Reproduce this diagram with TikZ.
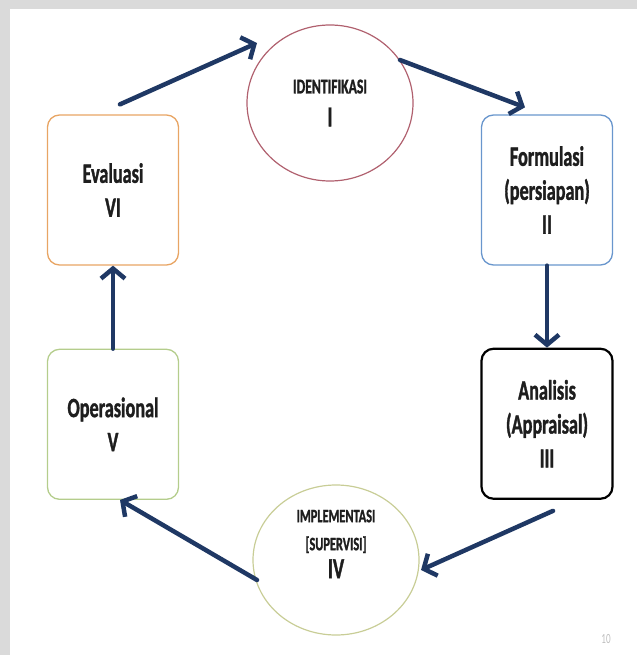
\documentclass[tikz,border=0pt]{standalone}
\usepackage{fontspec}
\newfontfamily\stagefont{Carlito}[FakeStretch=0.65, BoldFeatures={FakeBold=1.2}]
\usepackage{xcolor}
\usetikzlibrary{arrows.meta,positioning,shapes.geometric}

\definecolor{arrowblue}{RGB}{31,56,100}
\definecolor{identcol}{RGB}{176,96,110}
\definecolor{formcol}{RGB}{105,150,205}
\definecolor{implcol}{RGB}{200,205,150}
\definecolor{opercol}{RGB}{180,205,140}
\definecolor{evalcol}{RGB}{232,165,100}
\definecolor{textgray}{RGB}{30,30,30}
\definecolor{edgegray}{RGB}{218,218,218}

\begin{document}
\begin{tikzpicture}[x=1pt, y=-1pt, >={Straight Barb[length=10pt,width=24pt]},
  stage/.style={draw, rounded corners=12pt, line width=1.3pt, minimum width=131pt,
    minimum height=150pt, align=center, text=textgray,
    font=\stagefont\bfseries\fontsize{28}{34}\selectfont},
  phase/.style={draw, ellipse, line width=1.2pt, minimum width=166pt,
    minimum height=150pt, inner sep=0pt, align=center, text=textgray},
  phasetext/.style={align=center, text=textgray,
    font=\stagefont\bfseries\fontsize{19}{28}\selectfont},
  flow/.style={->, line width=4.5pt, draw=arrowblue, line cap=round}]
  \useasboundingbox (0,0) rectangle (637,655);
  \fill[edgegray] (0,0) rectangle (10,655);
  \fill[edgegray] (0,0) rectangle (637,9);

  \node[phase, draw=identcol, minimum height=156pt, font=\stagefont\bfseries\fontsize{21}{33}\selectfont] (ident) at (330,103)
    {IDENTIFIKASI\\{\fontsize{29}{33}\selectfont I}};
  \node[stage, draw=formcol] (form) at (547,190) {Formulasi\\(persiapan)\\II};
  \node[stage, draw=black, line width=2.2pt, below=82pt of form] (anal) {Analisis\\(Appraisal)\\III};
  \node[phase, draw=implcol, label={[phasetext, yshift=16pt]center:{IMPLEMENTASI\\{[SUPERVISI]}\\{\fontsize{29}{33}\selectfont IV}}}] (impl) at (336,560) {};
  \node[stage, draw=evalcol] (eval) at (113,190) {Evaluasi\\VI};
  \node[stage, draw=opercol, below=83pt of eval] (oper) {Operasional\\V};
  \node[font=\stagefont\fontsize{14}{14}\selectfont, text=gray!50] (pagenum) at (606,639) {10};

  \draw[flow] ([xshift=7pt, yshift=10pt]eval.north) -- ([xshift=-73pt, yshift=60pt]ident.center);
  \draw[flow] ([xshift=70pt, yshift=43pt]ident.center) -- ([xshift=-22pt, yshift=7pt]form.north);
  \draw[flow] (form.south) -- (anal.north);
  \draw[flow] ([xshift=6pt, yshift=-11pt]anal.south) -- ([xshift=85pt, yshift=-10pt]impl.center);
  \draw[flow] ([xshift=-79pt, yshift=-20pt]impl.center) -- ([xshift=7pt]oper.south);
  \draw[flow] (oper.north) -- (eval.south);
\end{tikzpicture}
\end{document}
